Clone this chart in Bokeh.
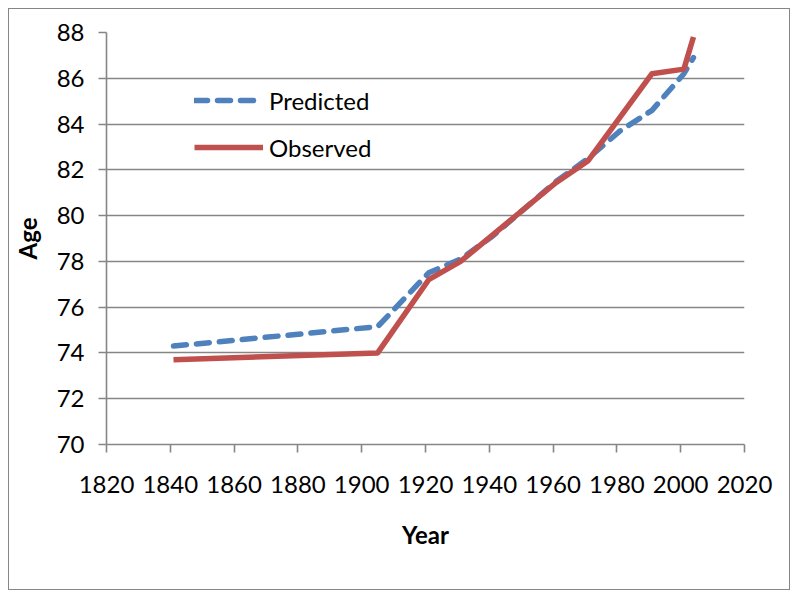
from bokeh.plotting import figure
from bokeh.models import Range1d, FixedTicker, Legend, LegendItem
from bokeh.embed import file_html
from bokeh.resources import INLINE

years_pred = [1841, 1905, 1921, 1931, 1941, 1961, 1971, 1981, 1991, 2001, 2004]
age_pred = [74.3, 75.15, 77.5, 78.1, 79.1, 81.5, 82.5, 83.7, 84.6, 86.2, 86.9]
years_obs = [1841, 1905, 1921, 1931, 1961, 1971, 1991, 2001, 2004]
age_obs = [73.7, 74.0, 77.2, 78.0, 81.45, 82.4, 86.2, 86.4, 87.8]
x_ticks = list(range(1820, 2021, 20))
y_ticks = list(range(70, 89, 2))
series_names = ["Predicted", "Observed"]

FONT = "Lato"
GRAY = "#868686"

p = figure(width=782, height=582, output_backend="svg", toolbar_location=None,
           x_range=Range1d(1820, 2020), y_range=Range1d(70, 88),
           min_border_left=96, min_border_top=23, min_border_right=47, min_border_bottom=147)
p.margin = (8, 0, 0, 8)
p.styles = {"border": "1px solid #868686"}
p.outline_line_color = None
p.background_fill_color = "white"
p.border_fill_color = "white"

p.xaxis.ticker = FixedTicker(ticks=x_ticks)
p.yaxis.ticker = FixedTicker(ticks=y_ticks)
p.xgrid.grid_line_color = None
p.ygrid.grid_line_color = GRAY
p.ygrid.grid_line_width = 1.6

for ax in (p.xaxis[0], p.yaxis[0]):
    ax.axis_line_color = GRAY
    ax.axis_line_width = 1.6
    ax.major_tick_line_color = GRAY
    ax.major_tick_line_width = 1.6
    ax.major_tick_in = 0
    ax.major_tick_out = 8
    ax.minor_tick_line_color = None
    ax.major_label_text_font = FONT
    ax.major_label_text_font_size = "24px"
    ax.major_label_text_color = "black"
    ax.axis_label_text_font = FONT
    ax.axis_label_text_font_size = "24px"
    ax.axis_label_text_font_style = "bold"
    ax.axis_label_text_color = "black"

p.xaxis.axis_label = "Year"
p.yaxis.axis_label = "Age"
p.xaxis.major_label_standoff = 23
p.yaxis.major_label_standoff = 14
p.xaxis.axis_label_standoff = 24
p.yaxis.axis_label_standoff = 12

r_pred = p.line(years_pred, age_pred, line_color="#4F81BD", line_width=5.5,
                line_dash="13 10", line_cap="round", line_join="round")
r_obs = p.line(years_obs, age_obs, line_color="#C0504D", line_width=5.5,
               line_cap="butt", line_join="round")

legend = Legend(items=[LegendItem(label=series_names[0], renderers=[r_pred]),
                       LegendItem(label=series_names[1], renderers=[r_obs])],
                location=(88, 277), padding=0, margin=0, spacing=7,
                glyph_width=69, glyph_height=40, label_standoff=6,
                label_text_font=FONT, label_text_font_size="24px",
                label_text_color="black",
                border_line_color=None, background_fill_alpha=0)
p.add_layout(legend, "center")

open("out.html", "w").write(file_html(p, INLINE))
